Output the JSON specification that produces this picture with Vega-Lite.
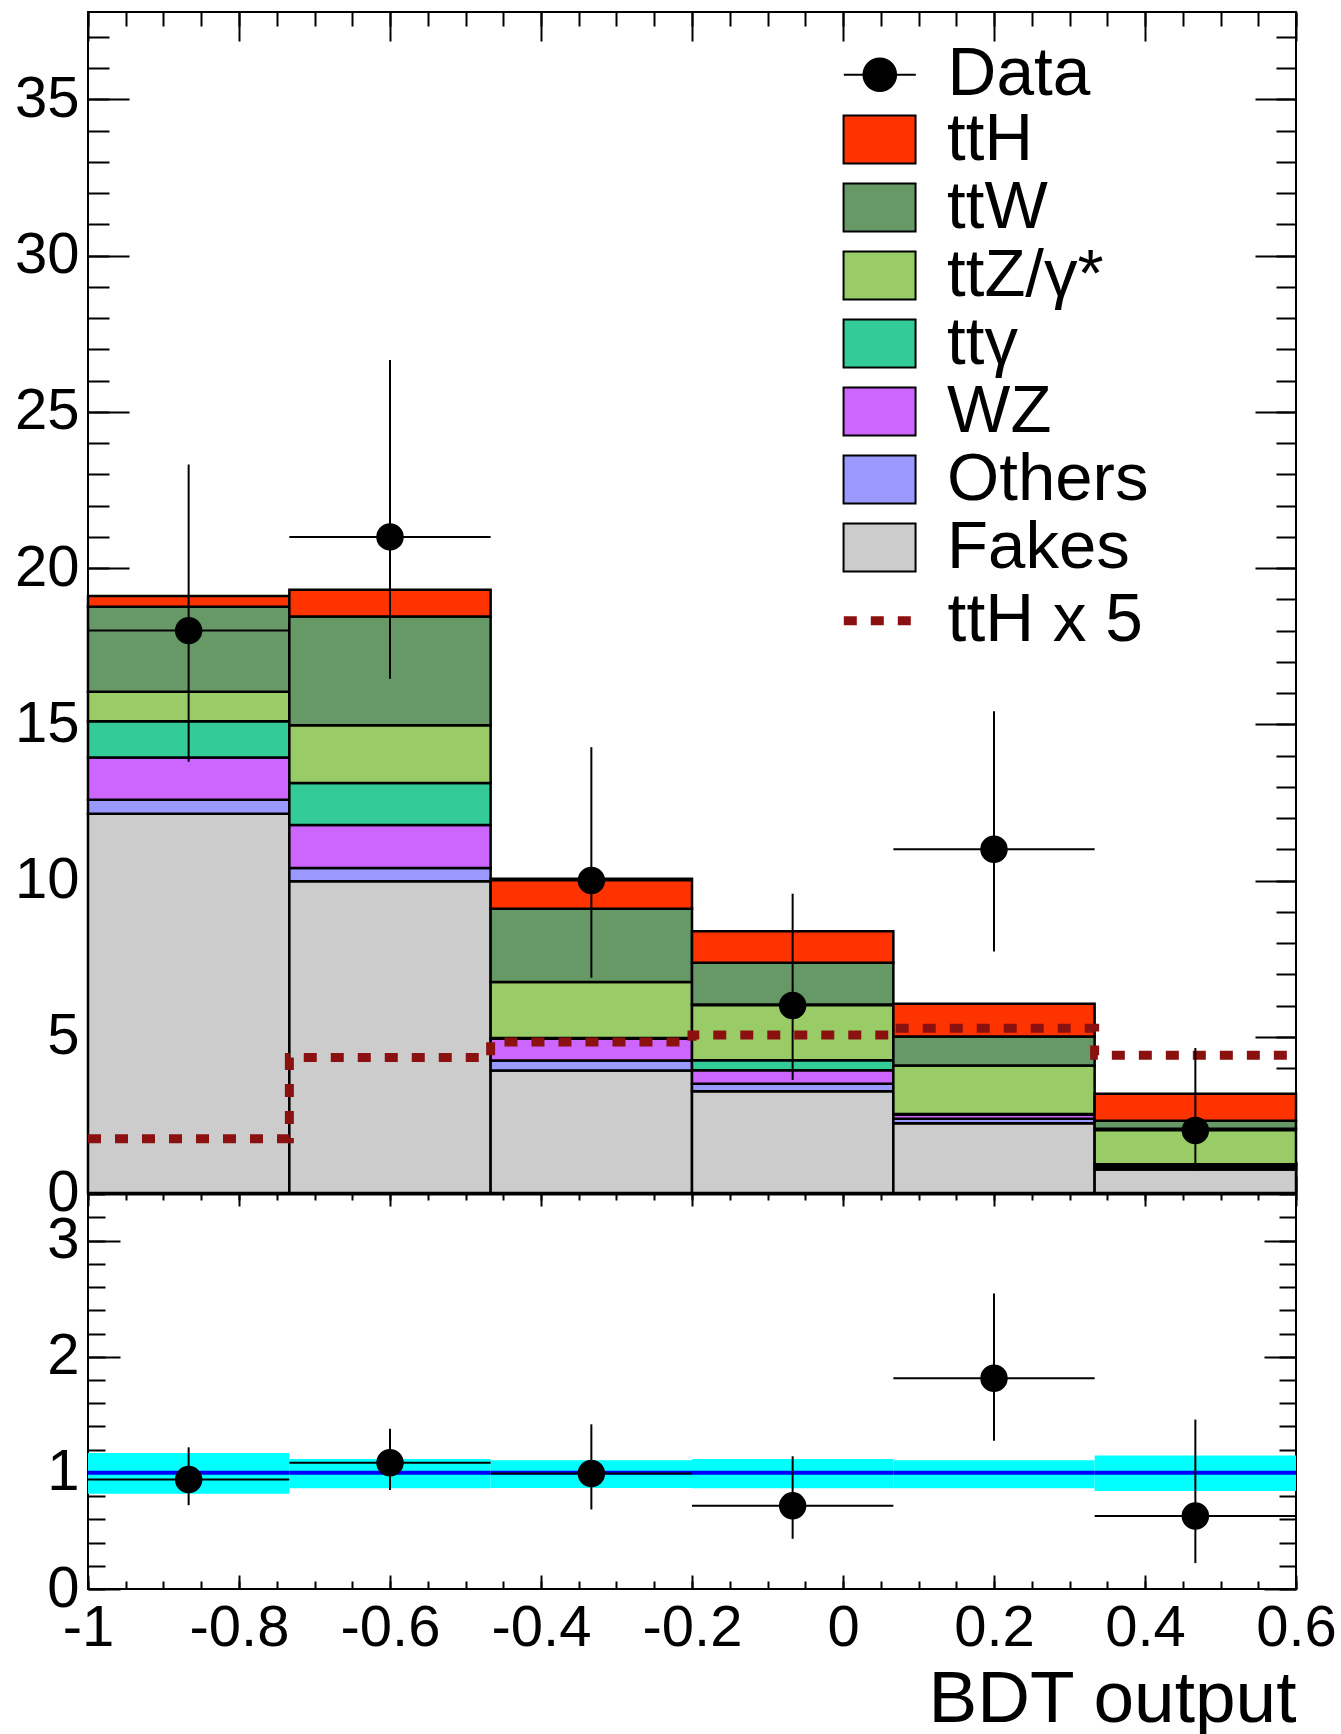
{
  "$schema": "https://vega.github.io/schema/vega-lite/v6.json",
  "background": "white",
  "padding": {"left": 13, "top": 10, "right": 5, "bottom": 0},
  "bounds": "flush",
  "spacing": 0,
  "config": {
    "view": {"stroke": "black", "strokeWidth": 2},
    "axis": {"grid": false, "domain": false, "labelFont": "Liberation Sans", "labelFontSize": 58, "labelColor": "black", "tickColor": "black", "tickWidth": 2, "titleFont": "Liberation Sans", "titleColor": "black", "labelOverlap": false, "labelFlush": false, "labelBound": false, "title": null},
    "legend": {"labelFont": "Liberation Sans", "labelFontSize": 67.6, "labelColor": "black", "labelLimit": 600, "padding": 0, "rowPadding": 0, "symbolOpacity": 1, "title": null}
  },
  "resolve": {"scale": {"x": "independent", "y": "independent"}},
  "datasets": {
    "bkg": [
      {"bin": 1, "lo": -1, "hi": -0.7333, "process": "Fakes", "k": 1, "n": 12.14},
      {"bin": 1, "lo": -1, "hi": -0.7333, "process": "Others", "k": 2, "n": 0.45},
      {"bin": 1, "lo": -1, "hi": -0.7333, "process": "WZ", "k": 3, "n": 1.35},
      {"bin": 1, "lo": -1, "hi": -0.7333, "process": "ttγ", "k": 4, "n": 1.16},
      {"bin": 1, "lo": -1, "hi": -0.7333, "process": "ttZ/γ*", "k": 5, "n": 0.94},
      {"bin": 1, "lo": -1, "hi": -0.7333, "process": "ttW", "k": 6, "n": 2.72},
      {"bin": 1, "lo": -1, "hi": -0.7333, "process": "ttH", "k": 7, "n": 0.35},
      {"bin": 2, "lo": -0.7333, "hi": -0.4667, "process": "Fakes", "k": 1, "n": 9.98},
      {"bin": 2, "lo": -0.7333, "hi": -0.4667, "process": "Others", "k": 2, "n": 0.42},
      {"bin": 2, "lo": -0.7333, "hi": -0.4667, "process": "WZ", "k": 3, "n": 1.38},
      {"bin": 2, "lo": -0.7333, "hi": -0.4667, "process": "ttγ", "k": 4, "n": 1.34},
      {"bin": 2, "lo": -0.7333, "hi": -0.4667, "process": "ttZ/γ*", "k": 5, "n": 1.85},
      {"bin": 2, "lo": -0.7333, "hi": -0.4667, "process": "ttW", "k": 6, "n": 3.48},
      {"bin": 2, "lo": -0.7333, "hi": -0.4667, "process": "ttH", "k": 7, "n": 0.86},
      {"bin": 3, "lo": -0.4667, "hi": -0.2, "process": "Fakes", "k": 1, "n": 3.92},
      {"bin": 3, "lo": -0.4667, "hi": -0.2, "process": "Others", "k": 2, "n": 0.32},
      {"bin": 3, "lo": -0.4667, "hi": -0.2, "process": "WZ", "k": 3, "n": 0.70},
      {"bin": 3, "lo": -0.4667, "hi": -0.2, "process": "ttγ", "k": 4, "n": 0.02},
      {"bin": 3, "lo": -0.4667, "hi": -0.2, "process": "ttZ/γ*", "k": 5, "n": 1.79},
      {"bin": 3, "lo": -0.4667, "hi": -0.2, "process": "ttW", "k": 6, "n": 2.35},
      {"bin": 3, "lo": -0.4667, "hi": -0.2, "process": "ttH", "k": 7, "n": 0.96},
      {"bin": 4, "lo": -0.2, "hi": 0.0667, "process": "Fakes", "k": 1, "n": 3.26},
      {"bin": 4, "lo": -0.2, "hi": 0.0667, "process": "Others", "k": 2, "n": 0.24},
      {"bin": 4, "lo": -0.2, "hi": 0.0667, "process": "WZ", "k": 3, "n": 0.43},
      {"bin": 4, "lo": -0.2, "hi": 0.0667, "process": "ttγ", "k": 4, "n": 0.32},
      {"bin": 4, "lo": -0.2, "hi": 0.0667, "process": "ttZ/γ*", "k": 5, "n": 1.78},
      {"bin": 4, "lo": -0.2, "hi": 0.0667, "process": "ttW", "k": 6, "n": 1.34},
      {"bin": 4, "lo": -0.2, "hi": 0.0667, "process": "ttH", "k": 7, "n": 1.01},
      {"bin": 5, "lo": 0.0667, "hi": 0.3333, "process": "Fakes", "k": 1, "n": 2.23},
      {"bin": 5, "lo": 0.0667, "hi": 0.3333, "process": "Others", "k": 2, "n": 0.15},
      {"bin": 5, "lo": 0.0667, "hi": 0.3333, "process": "WZ", "k": 3, "n": 0.13},
      {"bin": 5, "lo": 0.0667, "hi": 0.3333, "process": "ttγ", "k": 4, "n": 0.02},
      {"bin": 5, "lo": 0.0667, "hi": 0.3333, "process": "ttZ/γ*", "k": 5, "n": 1.55},
      {"bin": 5, "lo": 0.0667, "hi": 0.3333, "process": "ttW", "k": 6, "n": 0.93},
      {"bin": 5, "lo": 0.0667, "hi": 0.3333, "process": "ttH", "k": 7, "n": 1.05},
      {"bin": 6, "lo": 0.3333, "hi": 0.6, "process": "Fakes", "k": 1, "n": 0.75},
      {"bin": 6, "lo": 0.3333, "hi": 0.6, "process": "Others", "k": 2, "n": 0.07},
      {"bin": 6, "lo": 0.3333, "hi": 0.6, "process": "WZ", "k": 3, "n": 0.08},
      {"bin": 6, "lo": 0.3333, "hi": 0.6, "process": "ttγ", "k": 4, "n": 0.02},
      {"bin": 6, "lo": 0.3333, "hi": 0.6, "process": "ttZ/γ*", "k": 5, "n": 1.14},
      {"bin": 6, "lo": 0.3333, "hi": 0.6, "process": "ttW", "k": 6, "n": 0.25},
      {"bin": 6, "lo": 0.3333, "hi": 0.6, "process": "ttH", "k": 7, "n": 0.87}
    ],
    "tth5": [
      {"x": -1, "n": 1.74},
      {"x": -0.7333, "n": 4.34},
      {"x": -0.4667, "n": 4.83},
      {"x": -0.2, "n": 5.06},
      {"x": 0.0667, "n": 5.27},
      {"x": 0.3333, "n": 4.41},
      {"x": 0.6, "n": 4.41}
    ],
    "obs": [
      {"x": -0.8667, "xlo": -1, "xhi": -0.7333, "n": 18, "lo": 13.8, "hi": 23.32},
      {"x": -0.6, "xlo": -0.7333, "xhi": -0.4667, "n": 21, "lo": 16.46, "hi": 26.66},
      {"x": -0.3333, "xlo": -0.4667, "xhi": -0.2, "n": 10, "lo": 6.89, "hi": 14.27},
      {"x": -0.0667, "xlo": -0.2, "xhi": 0.0667, "n": 6, "lo": 3.62, "hi": 9.58},
      {"x": 0.2, "xlo": 0.0667, "xhi": 0.3333, "n": 11, "lo": 7.73, "hi": 15.42},
      {"x": 0.4667, "xlo": 0.3333, "xhi": 0.6, "n": 2, "lo": 0.71, "hi": 4.64}
    ],
    "ratio": [
      {"x": -0.8667, "xlo": -1, "xhi": -0.7333, "r": 0.942, "lo": 0.722, "hi": 1.22},
      {"x": -0.6, "xlo": -0.7333, "xhi": -0.4667, "r": 1.087, "lo": 0.852, "hi": 1.38},
      {"x": -0.3333, "xlo": -0.4667, "xhi": -0.2, "r": 0.994, "lo": 0.685, "hi": 1.418},
      {"x": -0.0667, "xlo": -0.2, "xhi": 0.0667, "r": 0.716, "lo": 0.432, "hi": 1.143},
      {"x": 0.2, "xlo": 0.0667, "xhi": 0.3333, "r": 1.815, "lo": 1.276, "hi": 2.545},
      {"x": 0.4667, "xlo": 0.3333, "xhi": 0.6, "r": 0.629, "lo": 0.223, "hi": 1.459}
    ],
    "band": [
      {"xlo": -1, "xhi": -0.7333, "lo": 0.82, "hi": 1.172},
      {"xlo": -0.7333, "xhi": -0.4667, "lo": 0.868, "hi": 1.12},
      {"xlo": -0.4667, "xhi": -0.2, "lo": 0.87, "hi": 1.109},
      {"xlo": -0.2, "xhi": 0.0667, "lo": 0.868, "hi": 1.12},
      {"xlo": 0.0667, "xhi": 0.3333, "lo": 0.868, "hi": 1.109},
      {"xlo": 0.3333, "xhi": 0.6, "lo": 0.843, "hi": 1.15}
    ]
  },
  "vconcat": [
    {
      "width": 1208,
      "height": 1181,
      "resolve": {"axis": {"x": "independent", "y": "independent"}},
      "layer": [
        {
          "data": {"name": "bkg"},
          "transform": [{"stack": "n", "groupby": ["bin"], "sort": [{"field": "k", "order": "ascending"}], "as": ["y0", "y1"]}],
          "mark": {"type": "rect", "stroke": "black", "strokeWidth": 2.5},
          "encoding": {
            "x": {"field": "lo", "type": "quantitative", "scale": {"domain": [-1, 0.6], "nice": false, "zero": false},
              "axis": {"orient": "bottom", "values": [-1, -0.8, -0.6, -0.4, -0.2, 0, 0.2, 0.4, 0.6], "labels": false, "tickSize": -32, "domain": true, "domainColor": "black", "domainWidth": 4, "title": null}},
            "x2": {"field": "hi"},
            "y": {"field": "y0", "type": "quantitative", "scale": {"domain": [0, 37.8], "nice": false, "zero": false},
              "axis": {"orient": "left", "values": [0, 5, 10, 15, 20, 25, 30, 35], "ticks": false, "tickSize": 0, "labelPadding": 9, "title": null}},
            "y2": {"field": "y1"},
            "fill": {"field": "process", "type": "nominal",
              "scale": {"domain": ["ttH", "ttW", "ttZ/γ*", "ttγ", "WZ", "Others", "Fakes"],
                        "range": ["#ff3300", "#669966", "#99cc66", "#33cc99", "#cc66ff", "#9999ff", "#cccccc"]},
              "legend": {
                "orient": "none", "legendX": 758, "legendY": 94,
                "symbolSize": 2304, "symbolType": "M-1.5,-1H1.5V1H-1.5Z", "symbolStrokeWidth": 2, "symbolStrokeColor": "black",
                "labelOffset": 34, "labelFontSize": 67.1
              }
            }
          }
        },
        {
          "data": {"name": "tth5"},
          "mark": {"type": "line", "interpolate": "step-after", "color": "#8b1111", "strokeWidth": 9, "strokeCap": "butt"},
          "encoding": {
            "x": {"field": "x", "type": "quantitative",
              "axis": {"orient": "bottom", "values": [-1, -0.95, -0.9, -0.85, -0.8, -0.75, -0.7, -0.65, -0.6, -0.55, -0.5, -0.45, -0.4, -0.35, -0.3, -0.25, -0.2, -0.15, -0.1, -0.05, 0, 0.05, 0.1, 0.15, 0.2, 0.25, 0.3, 0.35, 0.4, 0.45, 0.5, 0.55, 0.6], "labels": false, "tickSize": -17, "title": null}},
            "y": {"field": "n", "type": "quantitative",
              "axis": {"orient": "left", "values": [0, 5, 10, 15, 20, 25, 30, 35], "labels": false, "tickSize": -41, "title": null}},
            "strokeDash": {"datum": "ttH x 5", "scale": {"domain": ["ttH x 5"], "range": [[13, 14]]},
              "legend": {"orient": "none", "legendX": 758, "legendY": 575, "symbolSize": 2304, "symbolType": "M-1.5,0H1.5", "symbolStrokeWidth": 9, "symbolStrokeColor": "#8b1111", "labelOffset": 34}}
          }
        },
        {
          "data": {"name": "obs"},
          "mark": {"type": "rule", "strokeWidth": 2},
          "encoding": {
            "x": {"field": "x", "type": "quantitative",
              "axis": {"orient": "top", "values": [-1, -0.8, -0.6, -0.4, -0.2, 0, 0.2, 0.4, 0.6], "labels": false, "tickSize": -29, "title": null}},
            "y": {"field": "lo", "type": "quantitative",
              "axis": {"orient": "left", "values": [0, 1, 2, 3, 4, 5, 6, 7, 8, 9, 10, 11, 12, 13, 14, 15, 16, 17, 18, 19, 20, 21, 22, 23, 24, 25, 26, 27, 28, 29, 30, 31, 32, 33, 34, 35, 36, 37], "labels": false, "tickSize": -21, "title": null}},
            "y2": {"field": "hi"},
            "stroke": {"datum": "Data", "scale": {"domain": ["Data"], "range": ["#000000"]},
              "legend": {"orient": "none", "legendX": 758, "legendY": 29, "symbolSize": 2304, "symbolType": "M-1.5,0H1.5M-0.68,0A0.68,0.68,0,1,1,0.68,0A0.68,0.68,0,1,1,-0.68,0Z", "symbolStrokeWidth": 2, "symbolFillColor": "#000000", "labelOffset": 34}}
          }
        },
        {
          "data": {"name": "obs"},
          "mark": {"type": "rule", "color": "black", "strokeWidth": 2},
          "encoding": {
            "x": {"field": "xlo", "type": "quantitative",
              "axis": {"orient": "top", "values": [-1, -0.95, -0.9, -0.85, -0.8, -0.75, -0.7, -0.65, -0.6, -0.55, -0.5, -0.45, -0.4, -0.35, -0.3, -0.25, -0.2, -0.15, -0.1, -0.05, 0, 0.05, 0.1, 0.15, 0.2, 0.25, 0.3, 0.35, 0.4, 0.45, 0.5, 0.55, 0.6], "labels": false, "tickSize": -14, "title": null}},
            "x2": {"field": "xhi"},
            "y": {"field": "n", "type": "quantitative",
              "axis": {"orient": "right", "values": [0, 5, 10, 15, 20, 25, 30, 35], "labels": false, "tickSize": -41, "title": null}}
          }
        },
        {
          "data": {"name": "obs"},
          "mark": {"type": "circle", "size": 755, "color": "black", "opacity": 1},
          "encoding": {
            "x": {"field": "x", "type": "quantitative", "axis": null},
            "y": {"field": "n", "type": "quantitative",
              "axis": {"orient": "right", "values": [0, 1, 2, 3, 4, 5, 6, 7, 8, 9, 10, 11, 12, 13, 14, 15, 16, 17, 18, 19, 20, 21, 22, 23, 24, 25, 26, 27, 28, 29, 30, 31, 32, 33, 34, 35, 36, 37], "labels": false, "tickSize": -20, "title": null}}
          }
        }
      ]
    },
    {
      "width": 1208,
      "height": 396,
      "resolve": {"axis": {"x": "independent", "y": "independent"}},
      "layer": [
        {
          "data": {"name": "band"},
          "mark": {"type": "rect", "color": "#00ffff"},
          "encoding": {
            "x": {"field": "xlo", "type": "quantitative", "scale": {"domain": [-1, 0.6], "nice": false, "zero": false},
              "axis": {"orient": "bottom", "values": [-1, -0.8, -0.6, -0.4, -0.2, 0, 0.2, 0.4, 0.6], "labelExpr": "toString(datum.value)", "ticks": false, "tickSize": 0, "labelPadding": 10,
                "title": "BDT output", "titleAnchor": "end", "titleFontSize": 73, "titleFontWeight": "normal", "titlePadding": 6}},
            "x2": {"field": "xhi"},
            "y": {"field": "lo", "type": "quantitative", "scale": {"domain": [0, 3.41], "nice": false, "zero": false},
              "axis": {"orient": "left", "values": [0, 1, 2, 3], "ticks": false, "tickSize": 0, "labelPadding": 9, "title": null}},
            "y2": {"field": "hi"}
          }
        },
        {
          "data": {"name": "band"},
          "mark": {"type": "rule", "color": "#0000ff", "strokeWidth": 4},
          "encoding": {
            "x": {"field": "xlo", "type": "quantitative",
              "axis": {"orient": "bottom", "values": [-1, -0.8, -0.6, -0.4, -0.2, 0, 0.2, 0.4, 0.6], "labels": false, "tickSize": -14, "title": null}},
            "x2": {"field": "xhi"},
            "y": {"datum": 1, "type": "quantitative",
              "axis": {"orient": "left", "values": [0, 1, 2, 3], "labels": false, "tickSize": -32, "title": null}}
          }
        },
        {
          "data": {"name": "ratio"},
          "mark": {"type": "rule", "color": "black", "strokeWidth": 2},
          "encoding": {
            "x": {"field": "x", "type": "quantitative",
              "axis": {"orient": "bottom", "values": [-1, -0.95, -0.9, -0.85, -0.8, -0.75, -0.7, -0.65, -0.6, -0.55, -0.5, -0.45, -0.4, -0.35, -0.3, -0.25, -0.2, -0.15, -0.1, -0.05, 0, 0.05, 0.1, 0.15, 0.2, 0.25, 0.3, 0.35, 0.4, 0.45, 0.5, 0.55, 0.6], "labels": false, "tickSize": -8, "title": null}},
            "y": {"field": "lo", "type": "quantitative",
              "axis": {"orient": "left", "values": [0, 0.2, 0.4, 0.6, 0.8, 1, 1.2, 1.4, 1.6, 1.8, 2, 2.2, 2.4, 2.6, 2.8, 3, 3.2, 3.4], "labels": false, "tickSize": -17, "title": null}},
            "y2": {"field": "hi"}
          }
        },
        {
          "data": {"name": "ratio"},
          "mark": {"type": "rule", "color": "black", "strokeWidth": 2},
          "encoding": {
            "x": {"field": "xlo", "type": "quantitative",
              "axis": {"orient": "top", "values": [-1, -0.8, -0.6, -0.4, -0.2, 0, 0.2, 0.4, 0.6], "labels": false, "tickSize": -13, "title": null}},
            "x2": {"field": "xhi"},
            "y": {"field": "r", "type": "quantitative",
              "axis": {"orient": "right", "values": [0, 1, 2, 3], "labels": false, "tickSize": -32, "title": null}}
          }
        },
        {
          "data": {"name": "ratio"},
          "mark": {"type": "circle", "size": 755, "color": "black", "opacity": 1},
          "encoding": {
            "x": {"field": "x", "type": "quantitative",
              "axis": {"orient": "top", "values": [-1, -0.95, -0.9, -0.85, -0.8, -0.75, -0.7, -0.65, -0.6, -0.55, -0.5, -0.45, -0.4, -0.35, -0.3, -0.25, -0.2, -0.15, -0.1, -0.05, 0, 0.05, 0.1, 0.15, 0.2, 0.25, 0.3, 0.35, 0.4, 0.45, 0.5, 0.55, 0.6], "labels": false, "tickSize": -7, "title": null}},
            "y": {"field": "r", "type": "quantitative",
              "axis": {"orient": "right", "values": [0, 0.2, 0.4, 0.6, 0.8, 1, 1.2, 1.4, 1.6, 1.8, 2, 2.2, 2.4, 2.6, 2.8, 3, 3.2, 3.4], "labels": false, "tickSize": -17, "title": null}}
          }
        }
      ]
    }
  ]
}
